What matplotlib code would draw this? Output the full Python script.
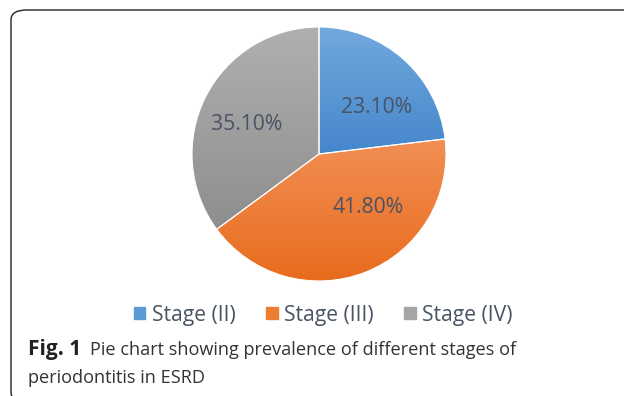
import numpy as np
import matplotlib
matplotlib.use('Agg')
import matplotlib.pyplot as plt
from matplotlib.colors import LinearSegmentedColormap
from matplotlib.patches import FancyBboxPatch

# data
stages = ['Stage (II)', 'Stage (III)', 'Stage (IV)']
prevalence = [23.1, 41.8, 35.1]

# styling
top_cols = ['#72a9de', '#f28f55', '#b0b0b0']
bot_cols = ['#4586cb', '#e86b1c', '#8e8e8e']
legend_cols = ['#5b9bd5', '#ed7d31', '#a5a5a5']
txt_col = '#495363'
# label spots inside the pie (pie radius = 1)
label_xy = [(0.45, 0.37), (0.39, -0.42), (-0.57, 0.23)]

plt.rcParams['font.family'] = ['Open Sans', 'DejaVu Sans']

fig = plt.figure(figsize=(6.24, 3.96), dpi=100)
W, H = 624, 396

# rounded frame, open to the right and bottom
frame = FancyBboxPatch((11 / W, -6 / H), 700 / W, 392 / H,
                       boxstyle='round,pad=0,rounding_size=0.025',
                       transform=fig.transFigure, fill=False,
                       edgecolor='#222222', linewidth=1.0)
fig.patches.append(frame)

cx, cy, r = 319, 154, 127
ax = fig.add_axes([(cx - r) / W, (H - cy - r) / H, 2 * r / W, 2 * r / H])
wedges, _ = ax.pie(prevalence, startangle=90, counterclock=False, radius=1,
                   colors=legend_cols,
                   wedgeprops=dict(edgecolor='white', linewidth=0.8))

# vertical gradient in each slice
for w, c1, c2 in zip(wedges, top_cols, bot_cols):
    cmap = LinearSegmentedColormap.from_list('g', [c2, c1])
    path = w.get_path().transformed(w.get_patch_transform())
    ys = path.vertices[:, 1]
    y0, y1 = ys.min(), ys.max()
    grad = np.linspace(0, 1, 256).reshape(-1, 1)
    im = ax.imshow(grad, cmap=cmap, origin='lower', aspect='auto',
                   extent=(-1.05, 1.05, y0, y1), zorder=w.get_zorder() + 0.1)
    im.set_clip_path(w)
    w.set_facecolor('none')
    w.set_zorder(w.get_zorder() + 0.2)

for (x, y), v in zip(label_xy, prevalence):
    ax.text(x, y, f'{v:.2f}%', ha='center', va='center', fontsize=15.2,
            color=txt_col, zorder=5)

ax.set_xlim(-1.0, 1.0)
ax.set_ylim(-1.0, 1.0)
ax.set_aspect('equal')
ax.axis('off')

handles = [plt.Rectangle((0, 0), 1, 1, color=c) for c in legend_cols]
leg = fig.legend(handles, stages, loc='center', bbox_to_anchor=(0.518, 1 - 315 / H),
                 ncol=3, frameon=False, fontsize=15.2, handlelength=0.55,
                 handleheight=0.55, handletextpad=0.3, columnspacing=1.45)
for t in leg.get_texts():
    t.set_color(txt_col)

fig.text(28 / W, 1 - 350 / H, 'Fig. 1', fontsize=15, fontweight='bold',
         va='center', ha='left', color='#222222')
fig.text(90 / W, 1 - 350 / H, 'Pie chart showing prevalence of different stages of',
         fontsize=13.1, va='center', ha='left', color='#333333')
fig.text(28 / W, 1 - 378 / H, 'periodontitis in ESRD', fontsize=13.1,
         va='center', ha='left', color='#333333')

fig.savefig('out.png', dpi=100)
